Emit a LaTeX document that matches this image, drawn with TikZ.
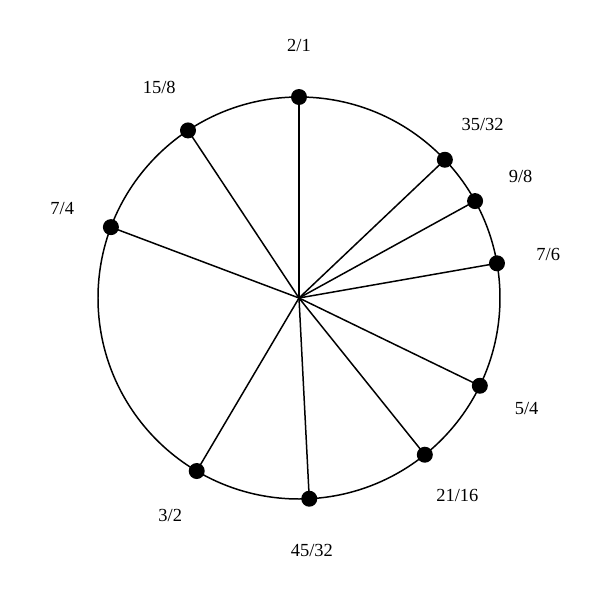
\documentclass[tikz,border=0pt]{standalone}
\usepackage{fontspec}
\setmainfont{Liberation Serif}
\usepackage{tikz}

\begin{document}
\begin{tikzpicture}[scale=1,line width=0.85pt,
  dot/.style={circle,fill=black,inner sep=0pt,minimum size=0.32cm},
  ratio/.style={font=\fontsize{10.5}{12}\selectfont}]
\useasboundingbox (-5.98,-6.04) rectangle (6.02,5.96);
\coordinate (O) at (0,0);
\draw (O) circle (4.02);

\draw (90:4.02) node[dot] (R1) {} (90:5.06) node[ratio] (L1) {2/1};
\draw (43.46:4.02) node[dot] (R2) {} (43.46:5.06) node[ratio] (L2) {35/32};
\draw (28.83:4.02) node[dot] (R3) {} (28.83:5.06) node[ratio] (L3) {9/8};
\draw (9.94:4.02) node[dot] (R4) {} (9.94:5.06) node[ratio] (L4) {7/6};
\draw (-25.89:4.02) node[dot] (R5) {} (-25.89:5.06) node[ratio] (L5) {5/4};
\draw (-51.24:4.02) node[dot] (R6) {} (-51.24:5.06) node[ratio] (L6) {21/16};
\draw (-87.07:4.02) node[dot] (R7) {} (-87.07:5.06) node[ratio] (L7) {45/32};
\draw (-120.59:4.02) node[dot] (R8) {} (-120.59:5.06) node[ratio] (L8) {3/2};
\draw (159.35:4.02) node[dot] (R9) {} (159.35:5.06) node[ratio] (L9) {7/4};
\draw (123.52:4.02) node[dot] (R10) {} (123.52:5.06) node[ratio] (L10) {15/8};

\draw (O)--(R1.center);
\draw (O)--(R2.center);
\draw (O)--(R3.center);
\draw (O)--(R4.center);
\draw (O)--(R5.center);
\draw (O)--(R6.center);
\draw (O)--(R7.center);
\draw (O)--(R8.center);
\draw (O)--(R9.center);
\draw (O)--(R10.center);
\end{tikzpicture}
\end{document}
